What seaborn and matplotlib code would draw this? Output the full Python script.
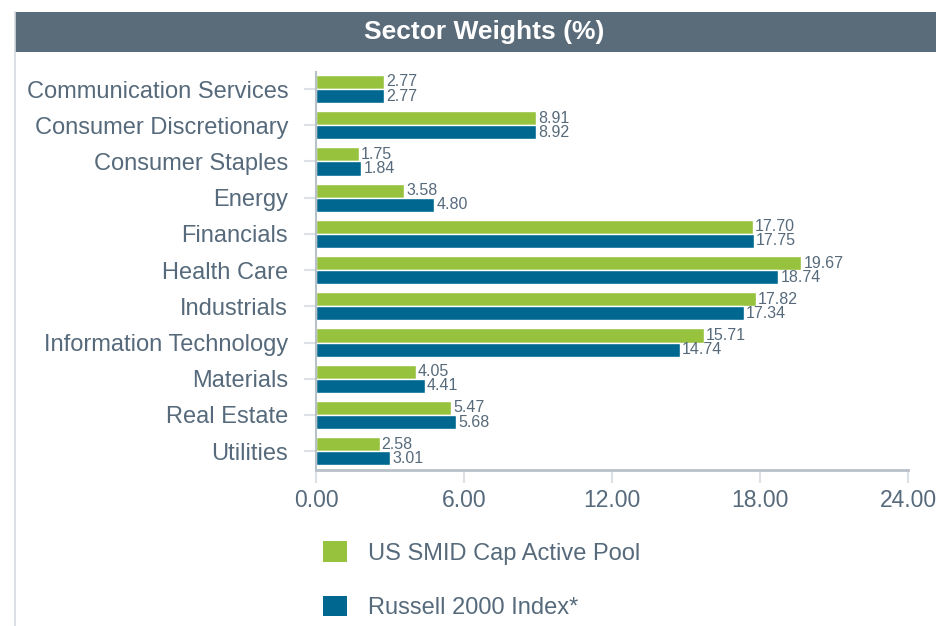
import matplotlib
matplotlib.use("Agg")
import matplotlib.pyplot as plt
import matplotlib.patches as mpatches
from matplotlib.lines import Line2D
import pandas as pd
import seaborn as sns

sectors = [
    "Communication Services", "Consumer Discretionary", "Consumer Staples",
    "Energy", "Financials", "Health Care", "Industrials",
    "Information Technology", "Materials", "Real Estate", "Utilities",
]
pool_values = [2.77, 8.91, 1.75, 3.58, 17.70, 19.67, 17.82, 15.71, 4.05, 5.47, 2.58]
index_values = [2.77, 8.92, 1.84, 4.80, 17.75, 18.74, 17.34, 14.74, 4.41, 5.68, 3.01]
series_names = ["US SMID Cap Active Pool", "Russell 2000 Index*"]
x_ticks = [0, 6, 12, 18, 24]
x_tick_labels = ["0.00", "6.00", "12.00", "18.00", "24.00"]

GREEN = "#97c23d"
BLUE = "#006890"
TEXT = "#566a7b"
HEADER = "#5a6b7a"
AXIS = "#b8c0c8"

df = pd.DataFrame({
    "Sector": sectors * 2,
    "Weight": pool_values + index_values,
    "Series": [series_names[0]] * len(sectors) + [series_names[1]] * len(sectors),
})

sns.set_style("white")
plt.rcParams["font.family"] = ["Liberation Sans", "DejaVu Sans"]

fig = plt.figure(figsize=(9.36, 6.26), dpi=100)
ax = fig.add_axes([316 / 936, 1 - 470 / 626, (908 - 316) / 936, (470 - 72) / 626])

sns.barplot(
    data=df, y="Sector", x="Weight", hue="Series", order=sectors,
    hue_order=series_names, palette=[GREEN, BLUE], orient="h",
    width=0.78, saturation=1, ax=ax, legend=False, errorbar=None,
)

# value labels to the right of each bar
for container in ax.containers:
    ax.bar_label(container, fmt="%.2f", padding=1.5, fontsize=11.5, color=TEXT,
                 label_type="edge")

ax.set_xlim(0, 24)
ax.set_ylim(len(sectors) - 0.48, -0.47)
ax.set_xticks(x_ticks)
ax.set_xticklabels(x_tick_labels)
ax.set_xlabel("")
ax.set_ylabel("")
ax.tick_params(axis="y", labelsize=17, labelcolor=TEXT, length=9, width=1.5,
               color="#dde1e5", pad=11, left=True)
ax.tick_params(axis="x", labelsize=16.5, labelcolor=TEXT, length=9, width=1.5,
               color="#dde1e5", pad=5, bottom=True, direction="out")

for side in ["top", "right"]:
    ax.spines[side].set_visible(False)
ax.spines["left"].set_color(AXIS)
ax.spines["left"].set_linewidth(1.5)
ax.spines["bottom"].set_color(AXIS)
ax.spines["bottom"].set_linewidth(2)

# header band with title
fig.patches.append(mpatches.Rectangle(
    (15 / 936, 1 - 52 / 626), 1 - 15 / 936, 40 / 626,
    transform=fig.transFigure, facecolor=HEADER, edgecolor="none", zorder=0))
fig.text(484 / 936, 1 - 32 / 626, "Sector Weights (%)", color="white",
         fontsize=19, fontweight="bold", ha="center", va="center")
fig.lines.append(Line2D([15 / 936, 15 / 936], [0, 1 - 12 / 626],
                        transform=fig.transFigure, color="#d5dadf", lw=1.2))

# legend below the chart
handles = [mpatches.Patch(facecolor=GREEN, edgecolor="none"),
           mpatches.Patch(facecolor=BLUE, edgecolor="none")]
fig.legend(handles, series_names, loc="upper left",
           bbox_to_anchor=(314 / 936, 1 - 532 / 626), frameon=False,
           fontsize=17, labelcolor=TEXT, handlelength=0.98, handleheight=0.98,
           handletextpad=0.9, labelspacing=1.3, borderaxespad=0)

fig.savefig("out.png", dpi=100)
